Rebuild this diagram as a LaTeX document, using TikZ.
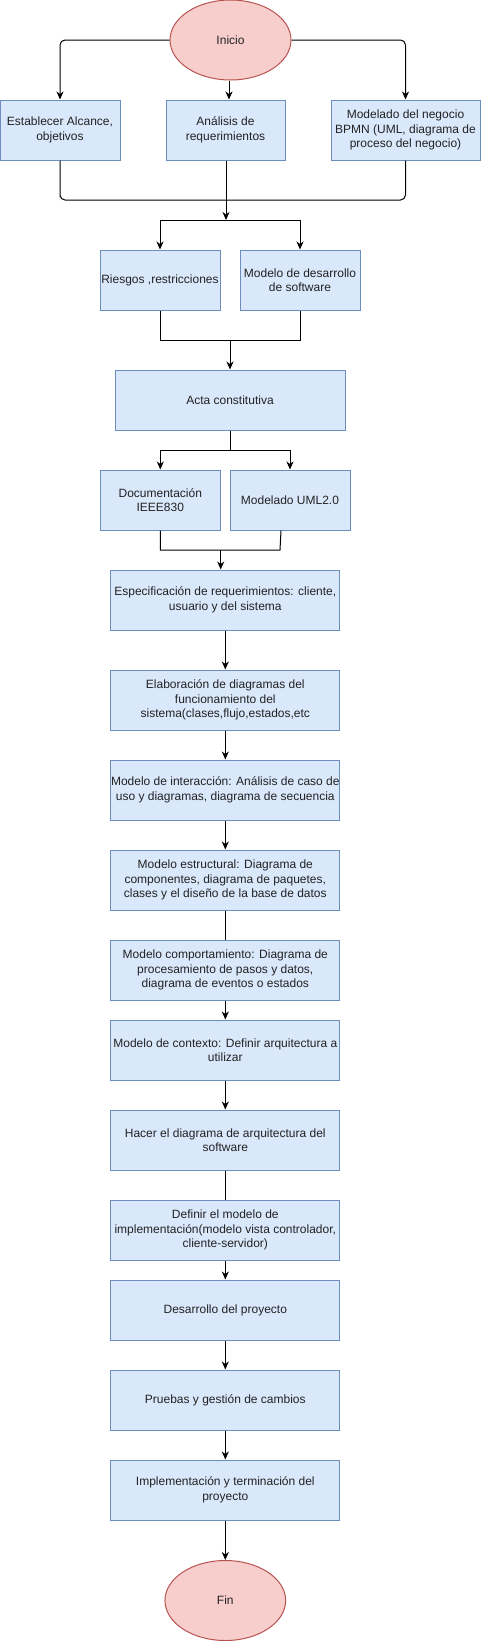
\documentclass[tikz,border=0pt]{standalone}
\usepackage{fontspec}
\setmainfont{Liberation Sans}
\usetikzlibrary{shapes.geometric,arrows.meta}
\definecolor{bfill}{HTML}{DAE8FC}
\definecolor{bline}{HTML}{6C8EBF}
\definecolor{rfill}{HTML}{F8CECC}
\definecolor{rline}{HTML}{B85450}
\definecolor{txt}{HTML}{222222}
\tikzset{
  box/.style={draw=bline,fill=bfill,line width=1pt,minimum height=60pt,inner sep=0pt,align=center,text=txt,font=\fontsize{12}{14.4}\selectfont},
  oval/.style={ellipse,draw=rline,fill=rfill,line width=1pt,minimum width=121pt,minimum height=80pt,inner sep=0pt,align=center,text=txt,font=\fontsize{12}{14.4}\selectfont},
  conn/.style={line width=1pt,black},
  arr/.style={conn,-{Stealth[length=8pt,width=7pt,inset=2.5pt]}}
}
\begin{document}
\begin{tikzpicture}[x=1pt,y=-1pt]
\useasboundingbox (0,0) rectangle (481,1641);
\node[oval] (ini) at (230.5,40) {Inicio};
\node[box,minimum width=120pt] (b1) at (60,130) {Establecer Alcance,\\objetivos};
\node[box,minimum width=119pt] (b2) at (225.5,130) {Análisis de\\requerimientos};
\node[box,minimum width=149pt] (b3) at (405.5,130) {Modelado del negocio\\BPMN (UML, diagrama de\\proceso del negocio)};
\node[box,minimum width=120pt] (r1) at (160,280) {Riesgos ,restricciones};
\node[box,minimum width=120pt] (r2) at (300,280) {Modelo de desarrollo\\de software};
\node[box,minimum width=230pt] (acta) at (230,400) {Acta constitutiva};
\node[box,minimum width=120pt] (doc) at (160.3,500) {Documentación\\IEEE830};
\node[box,minimum width=120pt] (uml) at (290,500) {Modelado UML2.0};
\node[box,minimum width=229.3pt] (espec) at (225.3,600) {Especificación de requerimientos: cliente,\\usuario y del sistema};
\node[box,minimum width=229.3pt] (elab) at (225.3,700) {Elaboración de diagramas del\\funcionamiento del\\sistema(clases,flujo,estados,etc};
\node[box,minimum width=229.3pt] (inter) at (225.3,790) {Modelo de interacción: Análisis de caso de\\uso y diagramas, diagrama de secuencia};
\node[box,minimum width=229.3pt] (estr) at (225.3,880) {Modelo estructural: Diagrama de\\componentes, diagrama de paquetes,\\clases y el diseño de la base de datos};
\node[box,minimum width=229.3pt] (comp) at (225.3,970) {Modelo comportamiento: Diagrama de\\procesamiento de pasos y datos,\\diagrama de eventos o estados};
\node[box,minimum width=229.3pt] (ctx) at (225.3,1050) {Modelo de contexto: Definir arquitectura a\\utilizar};
\node[box,minimum width=229.3pt] (hacer) at (225.3,1140) {Hacer el diagrama de arquitectura del\\software};
\node[box,minimum width=229.3pt] (def) at (225.3,1230) {Definir el modelo de\\implementación(modelo vista controlador,\\cliente-servidor)};
\node[box,minimum width=229.3pt] (des) at (225.3,1310) {Desarrollo del proyecto};
\node[box,minimum width=229.3pt] (pru) at (225.3,1400) {Pruebas y gestión de cambios};
\node[box,minimum width=229.3pt] (impl) at (225.3,1490) {Implementación y terminación del\\proyecto};
\node[oval,minimum width=120.7pt] (fin) at (225.3,1600.5) {Fin};
% junctions
\coordinate (jb) at (60,200);
\coordinate (j1) at (226,220);
\coordinate (j2) at (230,340);
\coordinate (j3) at (230,450);
\coordinate (j4) at (220.7,550);
\coordinate (j4r) at (280,550);
% top
\draw[arr,rounded corners=5pt] (ini.west) -| (b1.north);
\draw[arr] (ini.south -| 229,0) -- (b2.north -| 229,0);
\draw[arr,rounded corners=5pt] (ini.east) -| (b3.north);
\draw[conn,rounded corners=5pt] (b1.south) |- (jb) -| (b3.south);
\draw[arr] (b2.south -| j1) -- (j1);
\draw[arr] (j1) -| (r1.north);
\draw[arr] (j1) -| (r2.north);
\draw[conn] (r1.south) |- (j2);
\draw[conn] (r2.south) |- (j2);
\draw[arr] (j2) -- (acta.north);
\draw[conn] (acta.south) -- (j3);
\draw[arr] (j3) -| (doc.north);
\draw[arr] (j3) -| (uml.north);
\draw[conn] (doc.south) |- (j4r) -- ([xshift=-9pt]uml.south);
\draw[arr] (j4) -- (espec.north -| j4);
% chain
\draw[arr] (espec) -- (elab);
\draw[arr] (elab) -- (inter);
\draw[arr] (inter) -- (estr);
\draw[conn] (estr) -- (comp);
\draw[arr] (comp) -- (ctx);
\draw[arr] (ctx) -- (hacer);
\draw[conn] (hacer) -- (def);
\draw[arr] (def) -- (des);
\draw[arr] (des) -- (pru);
\draw[arr] (pru) -- (impl);
\draw[arr] (impl) -- (fin);
\end{tikzpicture}
\end{document}
